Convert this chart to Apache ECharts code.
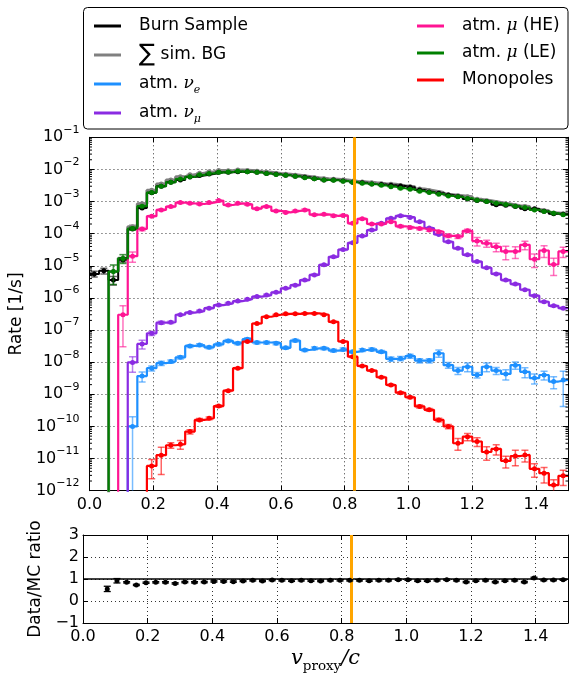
<!DOCTYPE html>
<html>
<head>
<meta charset="utf-8">
<script src="https://cdn.jsdelivr.net/npm/echarts@6/dist/echarts.min.js"></script>
<style>
html,body{margin:0;padding:0;background:#fff;}
#chart{width:569px;height:677px;}
</style>
</head>
<body>
<div id="chart"></div>
<script>
// ---------------- data ----------------
const binWidth = 0.03;      // histogram bin width in v_proxy/c
const nBins = 50;           // bins from 0.0 to 1.5
const cutValue = 0.83;      // vertical cut line

// rates [1/s] per bin (0 = empty bin)
const burnSample = [5.6e-6,7.0e-6,3.6e-6,1.55e-5,1.4e-4,6.3e-4,1.87e-3,3.0e-3,4.0e-3,4.7e-3,
  5.85e-3,6.5e-3,7.2e-3,8.2e-3,8.1e-3,8.4e-3,8.5e-3,8.2e-3,7.5e-3,7.1e-3,
  6.6e-3,6.1e-3,5.7e-3,5.1e-3,4.65e-3,4.7e-3,4.4e-3,4.0e-3,3.83e-3,3.52e-3,
  3.4e-3,3.23e-3,3.04e-3,2.78e-3,2.28e-3,2.0e-3,1.8e-3,1.59e-3,1.43e-3,1.2e-3,
  1.08e-3,1.0e-3,8.0e-4,7.7e-4,7.0e-4,6.0e-4,5.95e-4,4.95e-4,4.2e-4,4.05e-4];
const burnSampleErr = [0.2,0.2,0.3,0.15,0.06,0.03,0.02,0.02,0.02,0.02,
  0.02,0.02,0.02,0.02,0.02,0.02,0.02,0.02,0.02,0.02,
  0.02,0.02,0.02,0.02,0.02,0.02,0.02,0.02,0.02,0.02,
  0.02,0.02,0.02,0.02,0.02,0.02,0.02,0.02,0.02,0.02,
  0.03,0.03,0.03,0.03,0.03,0.03,0.03,0.03,0.03,0.03];

const simBG = [0,0,6.6e-6,1.73e-5,1.65e-4,8.6e-4,2.25e-3,3.55e-3,4.7e-3,5.9e-3,
  6.8e-3,7.6e-3,8.4e-3,9.2e-3,9.1e-3,9.6e-3,9.3e-3,8.7e-3,8.2e-3,7.5e-3,
  7.06e-3,6.6e-3,6.05e-3,5.5e-3,5.1e-3,4.98e-3,4.7e-3,4.26e-3,4.08e-3,3.83e-3,
  3.61e-3,3.44e-3,3.13e-3,2.87e-3,2.48e-3,2.18e-3,1.91e-3,1.64e-3,1.52e-3,1.4e-3,
  1.17e-3,1.06e-3,9.35e-4,8.4e-4,7.4e-4,6.97e-4,5.67e-4,5.2e-4,4.41e-4,4.18e-4];
const simBGErr = [0,0,0.6,0.3,0.12,0.05,0.03,0.03,0.03,0.03,
  0.03,0.03,0.03,0.03,0.03,0.03,0.03,0.03,0.03,0.03,
  0.03,0.03,0.03,0.03,0.03,0.03,0.03,0.03,0.03,0.03,
  0.03,0.03,0.03,0.03,0.03,0.03,0.03,0.03,0.03,0.03,
  0.03,0.03,0.03,0.03,0.03,0.03,0.03,0.03,0.03,0.03];

const atmNuE = [0,0,0,0,1e-10,3.7e-9,6.5e-9,9.3e-9,1.05e-8,1.42e-8,
  3.2e-8,3.4e-8,2.9e-8,3.6e-8,4.6e-8,3.9e-8,5.2e-8,4.1e-8,4.1e-8,3.9e-8,
  2.8e-8,4.7e-8,2.4e-8,2.7e-8,2.7e-8,2.3e-8,2.5e-8,2.1e-8,2.4e-8,2.5e-8,
  2.1e-8,1.26e-8,1.3e-8,1.55e-8,1.12e-8,1.12e-8,1.9e-8,8.1e-9,5.5e-9,7.2e-9,
  4e-9,7.2e-9,5.5e-9,4.3e-9,8.1e-9,5e-9,3.2e-9,4e-9,2.5e-9,2.8e-9];
const atmNuEErr = [0,0,0,0,1.0,0.35,0.18,0.15,0.12,0.12,
  0.1,0.1,0.1,0.1,0.1,0.1,0.1,0.1,0.1,0.1,
  0.1,0.1,0.1,0.1,0.1,0.1,0.1,0.1,0.1,0.1,
  0.1,0.15,0.15,0.15,0.15,0.15,0.25,0.2,0.25,0.3,
  0.2,0.3,0.25,0.35,0.25,0.35,0.35,0.3,0.4,0.85];

const atmNuMu = [0,0,0,0,9.8e-9,3.7e-8,7.9e-8,1.7e-7,1.75e-7,3e-7,
  3.5e-7,3.9e-7,4.8e-7,6e-7,6.8e-7,8e-7,9.1e-7,1.1e-6,1.23e-6,1.5e-6,
  2e-6,2.5e-6,3.6e-6,5.2e-6,1.07e-5,1.9e-5,3.2e-5,5.2e-5,8.5e-5,1.3e-4,
  2.1e-4,3e-4,3.6e-4,3.2e-4,2.35e-4,1.5e-4,9.5e-5,5.6e-5,3.5e-5,2.2e-5,
  1.35e-5,8.7e-6,5.6e-6,3.6e-6,2.7e-6,1.8e-6,1.18e-6,7.6e-7,5.7e-7,4.8e-7];
const atmNuMuErr = [0,0,0,0,0.5,0.3,0.15,0.1,0.08,0.06,
  0.06,0.06,0.06,0.06,0.06,0.06,0.06,0.06,0.06,0.06,
  0.06,0.06,0.06,0.06,0.06,0.06,0.06,0.06,0.06,0.06,
  0.06,0.06,0.06,0.06,0.06,0.06,0.06,0.06,0.06,0.06,
  0.06,0.06,0.06,0.06,0.06,0.06,0.06,0.06,0.06,0.06];

const atmMuHE = [0,0,0,3e-7,2e-5,1.4e-4,3.5e-4,5.5e-4,7e-4,9.3e-4,
  8.8e-4,8.4e-4,9.3e-4,1.07e-3,7.8e-4,8.8e-4,8.2e-4,6e-4,7e-4,5.1e-4,
  4.6e-4,5.1e-4,5.5e-4,3.9e-4,4e-4,3.6e-4,3.7e-4,2.1e-4,2.9e-4,2.0e-4,
  2.0e-4,2.35e-4,1.7e-4,1.55e-4,1.45e-4,1.3e-4,1.15e-4,8.6e-5,8.1e-5,1.23e-4,
  5.9e-5,5e-5,3.9e-5,2.8e-5,2.8e-5,4.5e-5,1.6e-5,3e-5,1.1e-5,2.8e-5];
const atmMuHEErr = [0,0,0,0.9,0.35,0.12,0.06,0.06,0.06,0.06,
  0.06,0.06,0.06,0.06,0.06,0.06,0.06,0.06,0.06,0.06,
  0.06,0.06,0.06,0.06,0.06,0.06,0.06,0.06,0.06,0.06,
  0.06,0.06,0.08,0.08,0.08,0.08,0.08,0.12,0.12,0.12,
  0.3,0.25,0.3,0.45,0.4,0.3,0.45,0.4,0.55,0.35];

const atmMuLE = [0,0,6.6e-6,1.7e-5,1.45e-4,7.2e-4,1.9e-3,3.0e-3,4.0e-3,5.0e-3,
  5.9e-3,6.8e-3,7.5e-3,8.1e-3,8.3e-3,8.7e-3,8.5e-3,8.1e-3,7.5e-3,7.0e-3,
  6.6e-3,6.1e-3,5.5e-3,5.1e-3,4.7e-3,4.6e-3,4.3e-3,4.0e-3,3.7e-3,3.5e-3,
  3.2e-3,2.9e-3,2.6e-3,2.4e-3,2.1e-3,1.9e-3,1.7e-3,1.5e-3,1.4e-3,1.25e-3,
  1.1e-3,1.0e-3,8.9e-4,8.1e-4,7.1e-4,6.5e-4,5.5e-4,4.9e-4,4.3e-4,3.9e-4];
const atmMuLEErr = [0,0,0.6,0.3,0.12,0.05,0.03,0.03,0.03,0.03,
  0.03,0.03,0.03,0.03,0.03,0.03,0.03,0.03,0.03,0.03,
  0.03,0.03,0.03,0.03,0.03,0.03,0.03,0.03,0.03,0.03,
  0.03,0.03,0.03,0.03,0.03,0.03,0.03,0.03,0.03,0.03,
  0.03,0.03,0.03,0.03,0.03,0.03,0.03,0.03,0.03,0.03];

const monopoles = [0,0,0,0,0,0,5.9e-12,1.28e-11,2.6e-11,2.8e-11,
  6.9e-11,1.6e-10,1.8e-10,4.3e-10,1.3e-9,6.5e-9,4.4e-8,1.6e-7,2.6e-7,3e-7,
  3.2e-7,3.2e-7,3.3e-7,3.3e-7,3e-7,1.8e-7,4.4e-8,1.48e-8,7.6e-9,5.5e-9,
  3.4e-9,1.95e-9,1.12e-9,8.1e-10,4.2e-10,3.3e-10,1.6e-10,1e-10,3e-11,4.8e-11,
  3.4e-11,1.6e-11,2e-11,8.5e-12,1.2e-11,1.3e-11,4.8e-12,3.5e-12,1.5e-12,2.9e-12];
const monopolesErr = [0,0,0,0,0,0,0.6,0.75,0.2,0.3,
  0.15,0.1,0.1,0.08,0.06,0.05,0.04,0.04,0.04,0.04,
  0.04,0.04,0.04,0.04,0.04,0.04,0.05,0.05,0.05,0.05,
  0.06,0.07,0.08,0.08,0.1,0.1,0.12,0.15,0.4,0.25,
  0.3,0.45,0.35,0.4,0.5,0.4,0.45,0.5,0.45,0.5];

// Data/MC ratio per bin (null = no MC)
const ratio = [null,null,0.55,0.92,0.85,0.73,0.83,0.85,0.85,0.80,
  0.86,0.85,0.86,0.89,0.89,0.88,0.91,0.94,0.91,0.95,
  0.94,0.92,0.94,0.92,0.91,0.94,0.94,0.94,0.94,0.92,
  0.94,0.94,0.97,0.97,0.92,0.92,0.94,0.97,0.94,0.86,
  0.92,0.94,0.86,0.92,0.94,0.86,1.05,0.95,0.95,0.97];
const ratioErr = [null,null,0.12,0.1,0.03,0.03,0.03,0.03,0.03,0.03,
  0.03,0.03,0.03,0.03,0.03,0.03,0.03,0.03,0.03,0.03,
  0.03,0.03,0.03,0.03,0.03,0.03,0.03,0.03,0.03,0.03,
  0.03,0.03,0.03,0.03,0.03,0.03,0.03,0.03,0.03,0.03,
  0.03,0.03,0.03,0.03,0.03,0.03,0.03,0.03,0.03,0.03];

// ---------------- rendering ----------------
const FONT = 'DejaVu Sans';
const SERIF = 'DejaVu Serif';
const FLOOR = 1e-14;   // stand-in for empty bins (below the axis, clipped)
const YMIN = 1e-12, YMAX = 1e-1;

const edges = [];
for (let i = 0; i <= nBins; i++) edges.push(+(i * binWidth).toFixed(4));
const centers = [];
for (let i = 0; i < nBins; i++) centers.push(+((edges[i] + edges[i + 1]) / 2).toFixed(4));

const datasets = [
  {name: '∑ sim. BG',   color: '#808080', vals: simBG,      err: simBGErr,      width: 3},
  {name: 'Burn Sample', color: '#000000', vals: burnSample, err: burnSampleErr, width: 2},
  {name: 'atm. ν_e',    color: '#1E90FF', vals: atmNuE,     err: atmNuEErr,     width: 2.2},
  {name: 'atm. ν_μ',    color: '#8A2BE2', vals: atmNuMu,    err: atmNuMuErr,    width: 2.2},
  {name: 'atm. μ (HE)', color: '#FF1493', vals: atmMuHE,    err: atmMuHEErr,    width: 2.2},
  {name: 'atm. μ (LE)', color: '#008000', vals: atmMuLE,    err: atmMuLEErr,    width: 2.2},
  {name: 'Monopoles',   color: '#FF0000', vals: monopoles,  err: monopolesErr,  width: 2.2}
];

const legendLabels = {
  'Burn Sample': 'Burn Sample',
  '∑ sim. BG': '{sum|∑} sim. BG',
  'atm. ν_e': 'atm. {g|ν}{sub|e}',
  'atm. ν_μ': 'atm. {g|ν}{sub|μ}',
  'atm. μ (HE)': 'atm. {g|μ} (HE)',
  'atm. μ (LE)': 'atm. {g|μ} (LE)',
  'Monopoles': 'Monopoles'
};

function rgba(hex, a) {
  const n = parseInt(hex.slice(1), 16);
  return 'rgba(' + ((n >> 16) & 255) + ',' + ((n >> 8) & 255) + ',' + (n & 255) + ',' + a + ')';
}
function stepData(vals) {
  const d = [];
  vals.forEach((v, i) => { const y = v > 0 ? v : FLOOR; d.push([edges[i], y], [edges[i + 1], y]); });
  return d;
}
function errItems(vals, rel) {
  const d = [];
  vals.forEach((v, i) => { if (v > 0) d.push([edges[i], edges[i + 1], v, v * rel[i]]); });
  return d;
}
function barRender(color) {
  return function (params, api) {
    const cs = params.coordSys;
    const top = cs.y, bottom = cs.y + cs.height;
    const x0 = api.value(0), x1 = api.value(1), v = api.value(2), e = api.value(3);
    const xc = (x0 + x1) / 2;
    const lo = v - e > 0 ? v - e : FLOOR, hi = v + e;
    const pc = api.coord([xc, v]);
    const yLoRaw = api.coord([xc, lo])[1], yHiRaw = api.coord([xc, hi])[1];
    const yLo = Math.min(bottom, yLoRaw), yHi = Math.max(top, yHiRaw);
    const ch = [];
    const cw = 3.5, x = pc[0];
    const st = {stroke: rgba(color, 0.6), lineWidth: 1.5};
    ch.push({type: 'line', shape: {x1: x, y1: yLo, x2: x, y2: yHi}, style: st});
    if (yLoRaw <= bottom) ch.push({type: 'line', shape: {x1: x - cw, y1: yLo, x2: x + cw, y2: yLo}, style: st});
    if (yHiRaw >= top) ch.push({type: 'line', shape: {x1: x - cw, y1: yHi, x2: x + cw, y2: yHi}, style: st});
    if (pc[1] <= bottom && pc[1] >= top)
      ch.push({type: 'circle', shape: {cx: x, cy: pc[1], r: 2.5}, style: {fill: color}});
    return {type: 'group', children: ch};
  };
}

const series = [];
datasets.forEach((ds, k) => {
  series.push({
    name: ds.name, type: 'line', xAxisIndex: 0, yAxisIndex: 0, z: 3 + k * 0.01, clip: true,
    data: stepData(ds.vals), showSymbol: false, symbol: 'none', color: ds.color,
    itemStyle: {color: ds.color}, lineStyle: {color: ds.color, width: ds.width}
  });
  series.push({
    name: ds.name + ' err', type: 'custom', xAxisIndex: 0, yAxisIndex: 0, z: 4, clip: true,
    encode: {x: [0, 1], y: 2}, data: errItems(ds.vals, ds.err), renderItem: barRender(ds.color), silent: true
  });
});

// minor ticks of the log axis (2..9 x 10^n), drawn on both vertical sides
const minorTickVals = [];
for (let n = -12; n <= -2; n++) for (let m = 2; m <= 9; m++) minorTickVals.push([0, m * Math.pow(10, n)]);
series.push({
  name: 'minor ticks', type: 'custom', xAxisIndex: 0, yAxisIndex: 0, z: 6, silent: true,
  encode: {x: 0, y: 1}, data: minorTickVals,
  renderItem: function (params, api) {
    const l = api.coord([0, api.value(1)]), r = api.coord([1.5, api.value(1)]);
    const st = {stroke: '#000', lineWidth: 1};
    return {type: 'group', children: [
      {type: 'line', shape: {x1: l[0], y1: l[1], x2: l[0] + 2.5, y2: l[1]}, style: st},
      {type: 'line', shape: {x1: r[0] - 2.5, y1: r[1], x2: r[0], y2: r[1]}, style: st}
    ]};
  }
});

// cut line in main panel
series.push({
  name: 'cut main', type: 'line', xAxisIndex: 0, yAxisIndex: 0, z: 8, data: [], silent: true,
  markLine: {symbol: 'none', silent: true, label: {show: false}, animation: false,
    lineStyle: {color: '#FFA500', width: 3, type: 'solid'}, data: [{xAxis: cutValue}]}
});

// ratio panel
const ratioItems = [];
ratio.forEach((r, i) => { if (r !== null) ratioItems.push([centers[i], r, ratioErr[i]]); });
series.push({
  name: 'unity', type: 'line', xAxisIndex: 2, yAxisIndex: 2, z: 3, data: [[0, 1], [1.5, 1]],
  showSymbol: false, symbol: 'none', lineStyle: {color: '#000', width: 1.5}, silent: true,
  markLine: {symbol: 'none', silent: true, label: {show: false}, animation: false,
    lineStyle: {color: '#FFA500', width: 3, type: 'solid'}, data: [{xAxis: cutValue}]}
});
series.push({
  name: 'Data/MC', type: 'custom', xAxisIndex: 2, yAxisIndex: 2, z: 5, silent: true,
  encode: {x: 0, y: 1}, data: ratioItems,
  renderItem: function (params, api) {
    const x = api.value(0), r = api.value(1), e = api.value(2);
    const p = api.coord([x, r]), lo = api.coord([x, r - e]), hi = api.coord([x, r + e]);
    const st = {stroke: '#000', lineWidth: 1.3}, cw = 3.5;
    return {type: 'group', children: [
      {type: 'line', shape: {x1: p[0], y1: lo[1], x2: p[0], y2: hi[1]}, style: st},
      {type: 'line', shape: {x1: p[0] - cw, y1: lo[1], x2: p[0] + cw, y2: lo[1]}, style: st},
      {type: 'line', shape: {x1: p[0] - cw, y1: hi[1], x2: p[0] + cw, y2: hi[1]}, style: st},
      {type: 'circle', shape: {cx: p[0], cy: p[1], r: 2.5}, style: {fill: '#000'}}
    ]};
  }
});

// ---------------- axes ----------------
const gridLine = {show: true, lineStyle: {color: '#000', width: 0.8, type: [1, 3]}};
const frameLine = {show: true, onZero: false, lineStyle: {color: '#000', width: 1}};
const tickIn = {show: true, inside: true, length: 5, lineStyle: {color: '#000', width: 1}};
const fmtX = v => (Math.abs(Math.round(v / 0.2) * 0.2 - v) < 1e-6 && v < 1.45) ? v.toFixed(1) : '';
function xAx(grid, pos, labels, extra) {
  return Object.assign({
    gridIndex: grid, type: 'value', min: 0, max: 1.5, interval: 0.2, position: pos,
    axisLine: frameLine, axisTick: tickIn, splitLine: pos === 'bottom' ? gridLine : {show: false},
    axisLabel: labels ? {fontFamily: FONT, fontSize: 16, color: '#000', margin: 6, formatter: fmtX,
      showMinLabel: true, showMaxLabel: false} : {show: false}
  }, extra || {});
}

const option = {
  animation: false,
  backgroundColor: '#fff',
  textStyle: {fontFamily: FONT},
  grid: [
    {left: 83, top: 137.3, width: 485, height: 353.4},
    {left: 83, top: 535, width: 485, height: 88}
  ],
  xAxis: [
    xAx(0, 'bottom', true),
    xAx(0, 'top', false),
    xAx(1, 'bottom', true, {
      name: '{i|v}{sub|proxy}{i|/c}', nameLocation: 'middle', nameGap: 22,
      nameTextStyle: {color: '#000', rich: {
        i: {fontFamily: SERIF, fontStyle: 'italic', fontSize: 21, lineHeight: 28, color: '#000'},
        sub: {fontFamily: SERIF, fontSize: 13.5, lineHeight: 13, verticalAlign: 'bottom', color: '#000'}
      }}
    }),
    xAx(1, 'top', false)
  ],
  yAxis: [
    {gridIndex: 0, type: 'log', logBase: 10, min: YMIN, max: YMAX, interval: 1, splitNumber: 11, position: 'left',
      axisLine: frameLine, axisTick: tickIn, splitLine: gridLine,
      name: 'Rate [1/s]', nameLocation: 'middle', nameGap: 54, nameRotate: 90,
      nameTextStyle: {fontFamily: FONT, fontSize: 17, color: '#000'},
      axisLabel: {margin: 10, color: '#000',
        formatter: v => '{b|10}{s|' + String(Math.round(Math.log10(v))).replace('-', '−') + '}',
        rich: {b: {fontFamily: FONT, fontSize: 16, lineHeight: 26, color: '#000'},
               s: {fontFamily: FONT, fontSize: 11, lineHeight: 14, verticalAlign: 'top', color: '#000'}}}},
    {gridIndex: 0, type: 'log', logBase: 10, min: YMIN, max: YMAX, interval: 1, splitNumber: 11, position: 'right',
      axisLine: frameLine, axisTick: tickIn, splitLine: {show: false}, axisLabel: {show: false}},
    {gridIndex: 1, type: 'value', min: -1, max: 3, interval: 1, position: 'left',
      axisLine: frameLine, axisTick: tickIn, splitLine: gridLine,
      name: 'Data/MC ratio', nameLocation: 'middle', nameGap: 27, nameRotate: 90,
      nameTextStyle: {fontFamily: FONT, fontSize: 17, color: '#000'},
      axisLabel: {fontFamily: FONT, fontSize: 16, color: '#000', margin: 4,
        formatter: v => v < 0 ? '−' + Math.abs(v) : String(v)}},
    {gridIndex: 1, type: 'value', min: -1, max: 3, interval: 1, position: 'right',
      axisLine: frameLine, axisTick: tickIn, splitLine: {show: false}, axisLabel: {show: false}}
  ],
  legend: [
    {data: ['Burn Sample', '∑ sim. BG', 'atm. ν_e', 'atm. ν_μ'], orient: 'vertical', left: 94, top: 14,
      padding: 0, itemGap: 5, itemWidth: 27, itemHeight: 3, icon: 'rect', selectedMode: false,
      formatter: n => legendLabels[n],
      textStyle: {fontFamily: FONT, fontSize: 17, color: '#000', lineHeight: 24, padding: [0, 0, 0, 13],
        rich: {sum: {fontFamily: FONT, fontSize: 24, lineHeight: 24, color: '#000'},
               g: {fontFamily: SERIF, fontStyle: 'italic', fontSize: 17, lineHeight: 24, color: '#000'},
               sub: {fontFamily: SERIF, fontStyle: 'italic', fontSize: 11, lineHeight: 12, verticalAlign: 'bottom', color: '#000'}}}},
    {data: ['atm. μ (HE)', 'atm. μ (LE)', 'Monopoles'], orient: 'vertical', left: 417, top: 14,
      padding: 0, itemGap: 3, itemWidth: 27, itemHeight: 3, icon: 'rect', selectedMode: false,
      formatter: n => legendLabels[n],
      textStyle: {fontFamily: FONT, fontSize: 17, color: '#000', lineHeight: 24, padding: [0, 0, 0, 13],
        rich: {g: {fontFamily: SERIF, fontStyle: 'italic', fontSize: 17, lineHeight: 24, color: '#000'}}}}
  ],
  graphic: [
    {type: 'rect', shape: {x: 83.5, y: 7.5, width: 484.5, height: 121.5, r: 4},
      style: {fill: 'none', stroke: '#000', lineWidth: 1}, z: 100, silent: true}
  ],
  series: series
};

const chart = echarts.init(document.getElementById('chart'), null, {renderer: 'canvas'});
chart.setOption(option);
</script>
</body>
</html>
